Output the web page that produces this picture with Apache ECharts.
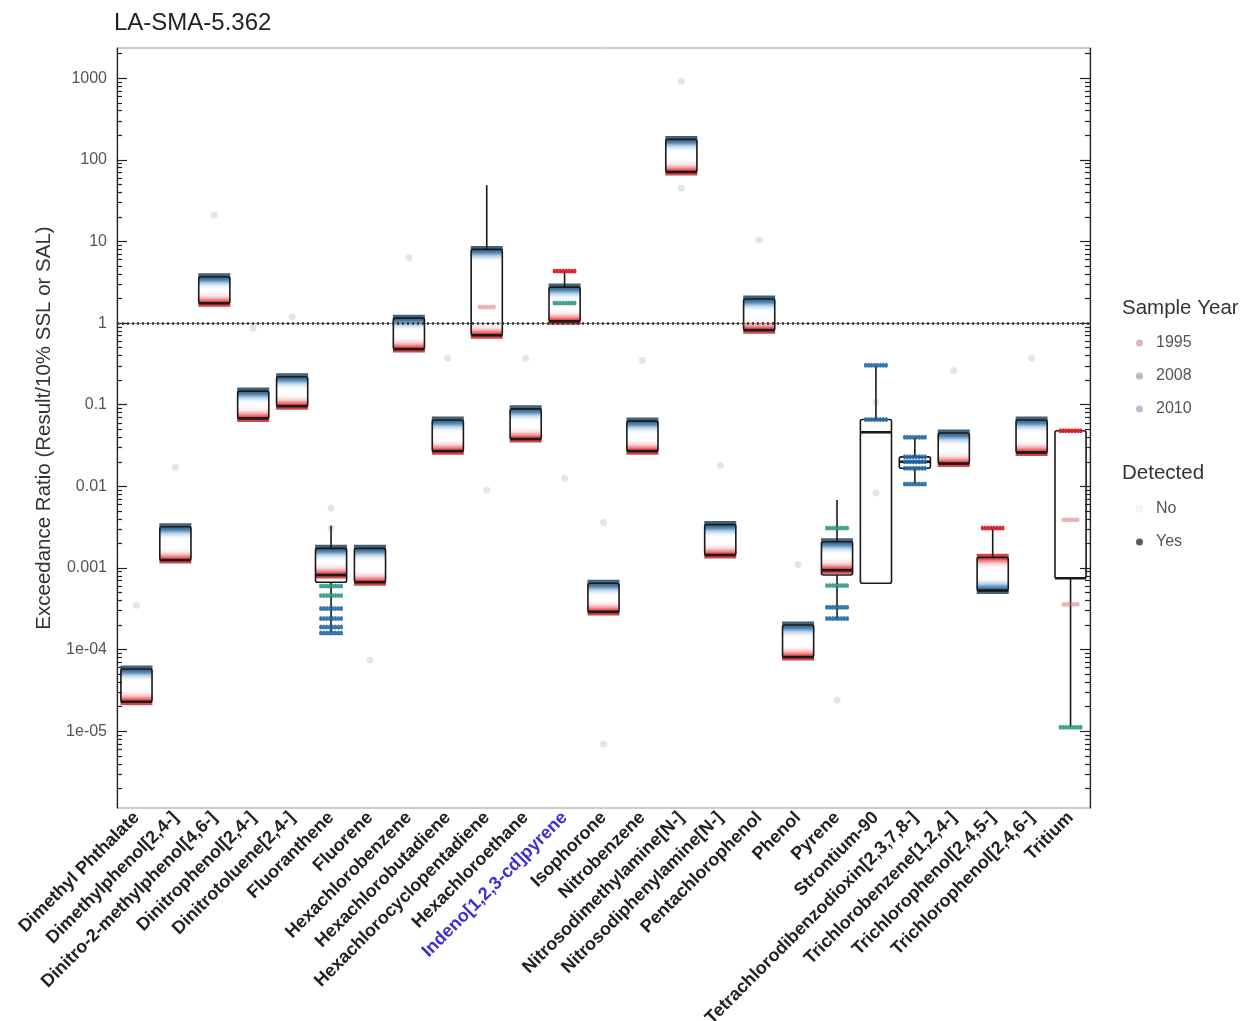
<!DOCTYPE html>
<html><head><meta charset="utf-8">
<script src="https://cdn.jsdelivr.net/npm/echarts@6/dist/echarts.min.js"></script>
<style>html,body{margin:0;padding:0;background:#fff}#chart{width:1243px;height:1021px}</style>
</head><body><div id="chart"></div><script>
// ---------- data ----------
const categories = ['Dimethyl Phthalate','Dimethylphenol[2,4-]','Dinitro-2-methylphenol[4,6-]','Dinitrophenol[2,4-]','Dinitrotoluene[2,4-]','Fluoranthene','Fluorene','Hexachlorobenzene','Hexachlorobutadiene','Hexachlorocyclopentadiene','Hexachloroethane','Indeno[1,2,3-cd]pyrene','Isophorone','Nitrobenzene','Nitrosodimethylamine[N-]','Nitrosodiphenylamine[N-]','Pentachlorophenol','Phenol','Pyrene','Strontium-90','Tetrachlorodibenzodioxin[2,3,7,8-]','Trichlorobenzene[1,2,4-]','Trichlorophenol[2,4,5-]','Trichlorophenol[2,4,6-]','Tritium'];
const boxLow    = [2.3e-5, 0.00125, 1.75, 0.068, 0.096, 1.6e-4, 6.7e-4, 0.48, 0.027, 0.71, 0.038, 1.05, 2.9e-4, 0.027, 71, 0.00144, 0.82, 8.1e-5, 2.3e-4, 6.5e-4, 0.0107, 0.019, 5.3e-4, 0.026, 1.12e-5];
const boxQ1     = [2.3e-5, 0.00125, 1.75, 0.068, 0.096, 6.7e-4, 6.7e-4, 0.48, 0.027, 0.71, 0.038, 1.05, 2.9e-4, 0.027, 71, 0.00144, 0.82, 8.1e-5, 8.2e-4, 6.5e-4, 0.0167, 0.019, 5.3e-4, 0.026, 7.5e-4];
const boxMedian = [2.3e-5, 0.00125, 1.75, 0.068, 0.096, 8.2e-4, 6.7e-4, 0.48, 0.027, 0.71, 0.038, 1.05, 2.9e-4, 0.027, 71, 0.00144, 0.82, 8.1e-5, 9.4e-4, 0.046, 0.02, 0.019, 5.3e-4, 0.026, 7.5e-4];
const boxQ3     = [5.8e-5, 0.0032, 3.7, 0.147, 0.22, 0.00174, 0.00174, 1.15, 0.065, 8.0, 0.089, 2.76, 6.5e-4, 0.063, 178, 0.0034, 1.97, 2.0e-4, 0.0021, 0.066, 0.023, 0.045, 0.00135, 0.065, 0.048];
const boxHigh   = [5.8e-5, 0.0032, 3.7, 0.147, 0.22, 0.0033, 0.00174, 1.15, 0.065, 49, 0.089, 4.35, 6.5e-4, 0.063, 178, 0.0034, 1.97, 2.0e-4, 0.0068, 0.305, 0.04, 0.045, 0.0031, 0.065, 0.048];
// dense clusters of detected results (one level per category)
const band2010  = [5.8e-5, 0.0032, 3.7, 0.147, 0.22, 0.00174, 0.00174, 1.15, 0.065, 8.0, 0.089, 2.76, 6.5e-4, 0.063, 178, 0.0034, 1.97, 2.0e-4, 0.0021, null, null, 0.045, 5.3e-4, 0.065, null];
const band1995  = [2.3e-5, 0.00125, 1.75, 0.068, 0.096, 8.2e-4, 6.7e-4, 0.48, 0.027, 0.71, 0.038, 1.05, 2.9e-4, 0.027, 71, 0.00144, 0.82, 8.1e-5, 9.4e-4, null, null, 0.019, 0.00135, 0.026, null];
// individual point groups [category index, value]
const points2010 = [[5,3.2e-4],[5,2.4e-4],[5,1.9e-4],[5,1.6e-4],[18,3.3e-4],[18,2.4e-4],[19,0.305],[19,0.066],[20,0.04],[20,0.023],[20,0.02],[20,0.0167],[20,0.0107]];
const points2008 = [[5,6.0e-4],[5,4.6e-4],[18,0.0031],[18,6.1e-4],[24,1.12e-5],[11,1.76]];
const points1995 = [[11,4.35],[22,0.0031],[24,0.048]];
const faint1995  = [[9,1.57],[24,0.0039],[24,3.6e-4]];
const pointsNo   = [[0,3.5e-4],[1,0.017],[2,21],[3,0.87],[4,1.2],[5,0.0054],[5,0.0031],[6,7.4e-5],[7,6.3],[8,0.37],[9,0.009],[10,0.37],[11,0.0126],[12,0.0036],[12,7e-6],[13,0.35],[14,920],[14,45],[15,0.018],[16,10.4],[17,0.0011],[18,2.4e-5],[19,0.107],[19,0.0083],[21,0.26],[23,0.37]];
const refLine = 1;
const yTickValues = [1e-5, 1e-4, 0.001, 0.01, 0.1, 1, 10, 100, 1000];
const yTickLabels = ['1e-05','1e-04','0.001','0.01','0.1','1','10','100','1000'];

// ---------- build ----------
const L = v => Math.log10(v);
const yMin = -5.94, yMax = 3.37;
const majors = yTickValues.map(L);
const minors = [];
for (let e = -6; e <= 3; e++) for (let k = 2; k <= 9; k++) { const t = e + Math.log10(k); if (t > yMin && t < yMax) minors.push(t); }

const rowPath = 'path://' + [0,1,2,3,4,5,6,7].map(k => 'M' + (k*3.5) + ',2a2,2 0 1,0 4,0a2,2 0 1,0 -4,0').join('');

const blueStops = [
  {offset:0,color:'#123554'},{offset:0.3,color:'#174a72'},{offset:0.42,color:'#2a6fa8'},
  {offset:0.6,color:'rgba(90,150,200,0.55)'},{offset:0.8,color:'rgba(170,205,235,0.25)'},{offset:1,color:'rgba(255,255,255,0)'}];
const redStops = [
  {offset:0,color:'#c8141a'},{offset:0.32,color:'#de2227'},{offset:0.45,color:'rgba(235,80,85,0.75)'},
  {offset:0.65,color:'rgba(240,150,155,0.35)'},{offset:1,color:'rgba(255,255,255,0)'}];
const blueDown = {type:'linear',x:0,y:0,x2:0,y2:1,colorStops:blueStops};
const blueUp   = {type:'linear',x:0,y:1,x2:0,y2:0,colorStops:blueStops};
const redUp    = {type:'linear',x:0,y:1,x2:0,y2:0,colorStops:redStops};
const redDown  = {type:'linear',x:0,y:0,x2:0,y2:1,colorStops:redStops};

const bandBlue = [], bandRed = [];
categories.forEach((c, i) => {
  const b = band2010[i], r = band1995[i];
  if (b != null) {
    const inv = r != null && r > b;
    bandBlue.push({value:[i, L(b)], symbolOffset:[0, inv ? -5 : 5], itemStyle:{color: inv ? blueUp : blueDown}});
  }
  if (r != null) {
    const inv = b != null && b < r;
    bandRed.push({value:[i, L(r)], symbolOffset:[0, inv ? 5 : -5], itemStyle:{color: inv ? redDown : redUp}});
  }
});
const boxData = categories.map((c, i) => [i, L(boxLow[i]), L(boxQ1[i]), L(boxMedian[i]), L(boxQ3[i]), L(boxHigh[i])]);
const toLog = arr => arr.map(p => [p[0], L(p[1])]);

function yAxisBase(pos, ticks, len, showLine, showLabel) {
  return {
    type:'value', position:pos, min:yMin, max:yMax,
    axisLine:{show:showLine, lineStyle:{color:'#222', width:1.2}},
    axisTick:{show:true, inside:true, length:len, customValues:ticks, lineStyle:{color:'#222', width:1.2}},
    axisLabel:{show:showLabel, customValues:majors, color:'#555', fontSize:16, margin:10,
      fontFamily:'Liberation Sans',
      formatter: v => { const i = majors.findIndex(m => Math.abs(m - v) < 1e-6); return i >= 0 ? yTickLabels[i] : ''; }},
    splitLine:{show:false}
  };
}
const yAxes = [
  Object.assign(yAxisBase('left', majors, 10, true, true), {
    name:'Exceedance Ratio (Result/10% SSL or SAL)', nameLocation:'middle', nameGap:62,
    nameTextStyle:{fontSize:20.5, color:'#333', fontFamily:'Liberation Sans'}}),
  yAxisBase('left', minors, 5, false, false),
  yAxisBase('right', majors, 10, true, false),
  yAxisBase('right', minors, 5, false, false)
];

const chart = echarts.init(document.getElementById('chart'), null, {renderer:'canvas'});
chart.setOption({
  backgroundColor:'#fff',
  animation:false,
  textStyle:{fontFamily:'Liberation Sans'},
  title:[
    {text:'LA-SMA-5.362', left:114, top:11, padding:0, textStyle:{fontSize:24, fontWeight:'normal', color:'#222'}},
    {text:'Sample Year', left:1122, top:298, padding:0, textStyle:{fontSize:20.5, fontWeight:'normal', color:'#333'}},
    {text:'Detected', left:1122, top:463, padding:0, textStyle:{fontSize:20.5, fontWeight:'normal', color:'#333'}}
  ],
  legend:[
    {data:[{name:'1995',itemStyle:{color:'#d7a3a6'}},{name:'2008',itemStyle:{color:'#a8b8ad'}},{name:'2010',itemStyle:{color:'#a4b3c4'}}],
     orient:'vertical', left:1136, top:335, icon:'circle', itemWidth:7, itemHeight:7, itemGap:17, selectedMode:false, padding:0,
     textStyle:{fontSize:16, color:'#555', padding:[0,0,0,8]}},
    {data:[{name:'No',icon:'rect',itemStyle:{color:'#cccccc'}},{name:'Yes',icon:'circle',itemStyle:{color:'#333'}}],
     orient:'vertical', left:1136, top:501, itemWidth:7, itemHeight:7, itemGap:17, selectedMode:false, padding:0,
     textStyle:{fontSize:16, color:'#555', padding:[0,0,0,8]}}
  ],
  grid:{left:117, right:153, top:48, bottom:213, show:true, borderColor:'#999', borderWidth:1,
        containLabel:false, outerBoundsMode:'none'},
  xAxis:{
    type:'category', data:categories,
    axisLine:{lineStyle:{color:'#888', width:1.2}},
    axisTick:{alignWithLabel:true, length:5, lineStyle:{color:'#444'}},
    axisLabel:{interval:0, rotate:45, fontSize:18, fontWeight:'bold', margin:7,
      color:(v, i) => v === 'Indeno[1,2,3-cd]pyrene' ? '#3a2fd6' : '#222'},
    splitLine:{show:false}
  },
  yAxis:yAxes,
  series:[
    {name:'No', type:'scatter', z:1, data:toLog(pointsNo), symbol:'circle', symbolSize:7,
     itemStyle:{color:'#888', opacity:0.22}},
    {name:'2010', type:'scatter', z:2, data:bandBlue, symbol:'rect', symbolSize:[32,17]},
    {name:'1995', type:'scatter', z:2, data:bandRed, symbol:'rect', symbolSize:[32,17]},
    {name:'box', type:'custom', z:3, data:boxData, encode:{x:0, y:[1,2,3,4,5]},
     renderItem:(params, api) => {
       const x = api.value(0);
       const lo = api.coord([x, api.value(1)]), q1 = api.coord([x, api.value(2)]),
             md = api.coord([x, api.value(3)]), q3 = api.coord([x, api.value(4)]),
             hi = api.coord([x, api.value(5)]);
       const w = api.size([1, 0])[0] * 0.8, cx = q1[0];
       const st = {stroke:'#1a1a1a', lineWidth:1.6, fill:null};
       return {type:'group', children:[
         {type:'line', shape:{x1:cx, y1:hi[1], x2:cx, y2:q3[1]}, style:st},
         {type:'line', shape:{x1:cx, y1:q1[1], x2:cx, y2:lo[1]}, style:st},
         {type:'rect', shape:{x:cx - w/2, y:q3[1], width:w, height:q1[1] - q3[1], r:2}, style:st},
         {type:'line', shape:{x1:cx - w/2, y1:md[1], x2:cx + w/2, y2:md[1]}, style:{stroke:'#1a1a1a', lineWidth:2.6}}
       ]};
     },
     markLine:{silent:true, symbol:'none', label:{show:false},
       lineStyle:{color:'#333', type:[2,3], width:2.5},
       data:[{yAxis:L(refLine)}]}
    },
    {name:'2010', type:'scatter', z:4, data:toLog(points2010), symbol:rowPath, symbolSize:[24,5], itemStyle:{color:'#2467a3', opacity:0.9}},
    {name:'2008', type:'scatter', z:4, data:toLog(points2008), symbol:rowPath, symbolSize:[24,5], itemStyle:{color:'#2f9a82', opacity:0.9}},
    {name:'1995', type:'scatter', z:4, data:toLog(points1995), symbol:rowPath, symbolSize:[24,5], itemStyle:{color:'#d91e24', opacity:0.95}},
    {name:'1995', type:'scatter', z:4, data:toLog(faint1995), symbol:rowPath, symbolSize:[18,5], itemStyle:{color:'#e0606a', opacity:0.5}},
    {name:'Yes', type:'scatter', data:[], itemStyle:{color:'#333'}}
  ]
});
</script></body></html>
